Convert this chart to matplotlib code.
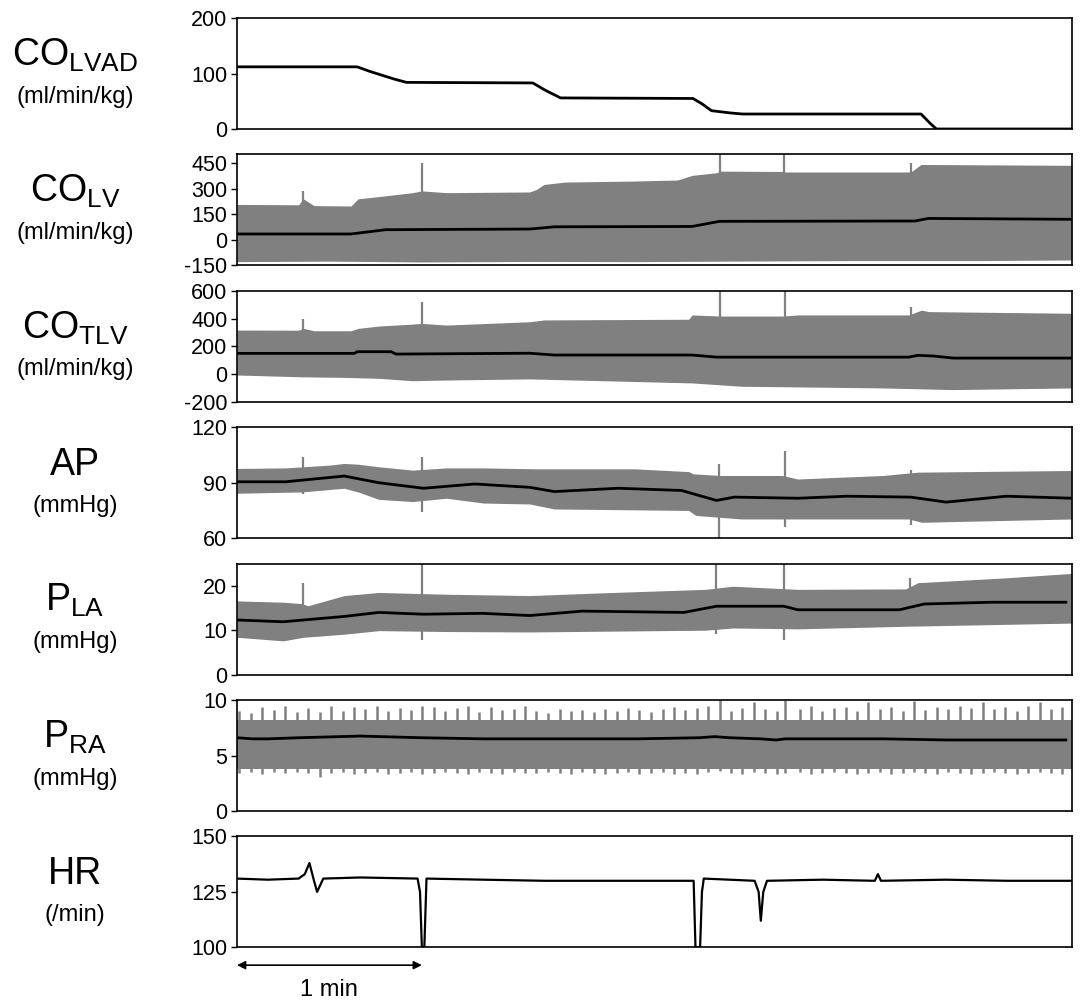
import matplotlib
matplotlib.use("Agg")
import matplotlib.pyplot as plt
import numpy as np

plt.rcParams['font.family'] = ['Liberation Sans', 'DejaVu Sans']
plt.rcParams['mathtext.fontset'] = 'custom'
plt.rcParams['mathtext.rm'] = 'Liberation Sans'
plt.rcParams['axes.unicode_minus'] = False

GREY = "#808080"

# ---- data (time in seconds) ----
lvad_t = [0, 39, 43, 47, 51, 55, 96, 100, 105, 148, 151, 154, 160, 164, 222, 225, 227, 271]
lvad_v = [112, 112, 104, 97, 90, 84, 83, 70, 56, 55, 45, 33, 29, 27, 27, 10, 0, 0]

lv_up_t = [0, 20, 21.5, 25, 37, 39.3, 46, 57, 60, 68, 95, 97.3, 99.6, 106.5, 129, 143, 147.7, 155.7, 157, 177, 178, 218.7, 222, 271]
lv_up_v = [207, 205, 240, 200, 198, 240, 253, 276, 286, 276, 280, 296, 324, 338, 344, 350, 377, 393, 402, 400, 397, 397, 441, 436]
lv_lo_t = [0, 30, 60, 95, 130, 160, 200, 240, 271]
lv_lo_v = [-128, -125, -130, -127, -128, -125, -122, -122, -118]
lv_mean_t = [0, 37, 48.2, 95, 97, 103, 147.7, 156.6, 220, 224.4, 271]
lv_mean_v = [34, 34, 59, 63, 66, 76, 78, 108, 110, 125, 120]
lv_spk_t = [21.4, 59.9, 156.6, 177.4, 218.7]
lv_spk_v = [286, 450, 500, 500, 451]

tlv_up_t = [0, 20, 21.5, 25, 37, 39.3, 46, 57, 60, 68, 95, 99.6, 146.6, 147.7, 157, 177, 182, 218, 222.2, 224.5, 271]
tlv_up_v = [317, 316, 330, 312, 312, 329, 346, 360, 365, 353, 377, 390, 395, 426, 418, 418, 426, 426, 461, 450, 438]
tlv_lo_t = [0, 21, 35, 46, 57, 68, 95, 147.7, 163.7, 209.6, 232.5, 271]
tlv_lo_v = [-7, -20, -24, -31, -48, -43, -35, -64, -88, -100, -112, -100]
tlv_mean_t = [0, 38.1, 39, 50, 51.6, 95, 103, 147.7, 155.6, 218, 221, 226, 232.5, 271]
tlv_mean_v = [149, 149, 161, 161, 144, 150, 137, 137, 122, 122, 135, 130, 115, 115]
tlv_spk_t = [21.4, 59.9, 156.6, 178.0, 218.7]
tlv_spk_v = [400, 521, 600, 600, 481]

ap_up_t = [0, 15.8, 30, 34.8, 39.3, 46, 57, 68, 80, 97, 106, 129, 146.6, 148, 157, 177, 182, 209.6, 221, 271]
ap_up_v = [97.7, 98, 99.5, 100.4, 100, 98.6, 96.8, 98, 98, 97.5, 97.5, 97.5, 96, 94.8, 93.9, 93.9, 92, 93.9, 95.7, 96.6]
ap_lo_t = [0, 21, 34.8, 39.3, 46, 57, 68, 80, 95, 103, 146.6, 148.9, 163.7, 186.7, 218, 222.2, 271]
ap_lo_v = [84.3, 85, 87, 85, 81, 79.8, 81.6, 79, 78.5, 75.8, 75, 72.3, 70.4, 70.4, 70.4, 68.6, 70.4]
ap_mean_t = [0, 15.8, 34.8, 46, 60.5, 77.2, 95, 103, 123.7, 144.3, 155.6, 161.4, 182.1, 198.1, 218.7, 230.2, 249.7, 271]
ap_mean_v = [90.5, 90.5, 93.6, 90, 87, 89.3, 87.5, 85.2, 87, 85.8, 80.4, 82.2, 81.6, 82.7, 82.2, 79.5, 82.7, 81.6]
ap_spk_t = [21.4, 59.9, 156.3, 178.0, 218.7]
ap_spk_hi = [104, 104, 100, 107.4, 97]
ap_spk_lo = [84, 74.4, 60, 66, 67.2]

la_up_t = [0, 15, 21, 23, 34.8, 46, 68, 95, 118, 152, 161, 182, 217, 221, 249.7, 271]
la_up_v = [16.6, 16.3, 16, 15.5, 17.8, 18.5, 18.1, 17.8, 18.4, 19.2, 19.9, 19.2, 19.3, 20.7, 21.8, 22.8]
la_lo_t = [0, 15, 21.4, 34.8, 46, 68, 95, 152, 161, 182, 218, 271]
la_lo_v = [8.4, 7.6, 8.4, 9.1, 9.9, 9.7, 9.6, 10, 10.5, 10.3, 10.9, 11.6]
la_mean_t = [0, 15, 34.8, 46, 60.5, 79.5, 95, 112, 145, 155.6, 177.5, 182, 215, 223, 245, 269]
la_mean_v = [12.3, 11.9, 13.1, 14.0, 13.6, 13.8, 13.3, 14.3, 14.0, 15.4, 15.4, 14.6, 14.6, 15.9, 16.3, 16.3]
la_spk_t = [21.4, 59.9, 155.6, 177.5, 218.5]
la_spk_hi = [20.6, 25, 25, 25, 21.8]
la_spk_lo = [12, 7.9, 9.2, 7.7, 11]

ra_up_t = [0, 271]
ra_up_v = [8.2, 8.2]
ra_lo_t = [0, 271]
ra_lo_v = [3.8, 3.8]
ra_mean_t = [0, 5, 10, 20, 40, 60, 80, 98, 130, 150, 155, 160, 170, 175, 178, 190, 210, 230, 240, 269]
ra_mean_v = [6.6, 6.5, 6.5, 6.6, 6.75, 6.6, 6.5, 6.5, 6.5, 6.6, 6.7, 6.6, 6.5, 6.4, 6.5, 6.5, 6.5, 6.4, 6.4, 6.4]
ra_breath_t = [0.8, 4.5, 8.2, 12.0, 15.6, 19.5, 23.1, 26.8, 30.4, 34.3, 37.9, 41.6, 45.5, 49.0,
               52.8, 56.4, 60.2, 63.9, 67.5, 71.3, 75.0, 78.6, 82.4, 86.1, 89.8, 93.6, 97.2,
               101.0, 104.7, 108.4, 112.1, 115.9, 119.5, 123.3, 127.0, 130.6, 134.4, 138.1,
               141.8, 145.5, 149.2, 152.9, 156.6, 160.4, 164.0, 167.8, 171.5, 175.2, 178.0,
               182.6, 186.3, 190.0, 193.7, 197.5, 201.1, 204.9, 208.6, 212.3, 216.0, 219.7,
               223.4, 227.1, 230.8, 234.6, 238.2, 242.0, 245.7, 249.4, 253.1, 256.8, 260.5,
               264.2, 267.9]
ra_breath_hi = [9.0, 8.8, 9.4, 9.1, 9.5, 8.9, 9.3, 8.9, 9.5, 9.0, 9.4, 9.2, 9.5, 9.0,
                9.3, 9.1, 9.5, 9.4, 9.0, 9.3, 9.5, 8.9, 9.4, 9.1, 9.2, 9.5, 9.0,
                8.8, 9.2, 9.0, 9.1, 8.9, 9.2, 9.0, 9.3, 9.1, 8.9, 9.2,
                9.4, 9.1, 9.3, 9.5, 10.0, 9.0, 9.3, 9.8, 9.2, 9.0, 10.0,
                9.2, 9.5, 9.0, 9.3, 9.4, 9.0, 9.8, 9.2, 9.4, 9.0, 9.9,
                9.1, 9.4, 9.2, 9.5, 9.3, 9.8, 9.2, 9.4, 9.0, 9.5, 9.8,
                9.2, 9.4]
ra_breath_lo = [3.4, 3.5, 3.3, 3.5, 3.4, 3.5, 3.4, 3.1, 3.4, 3.5, 3.3, 3.4, 3.5, 3.3,
                3.4, 3.5, 3.3, 3.4, 3.5, 3.4, 3.3, 3.5, 3.4, 3.3, 3.5, 3.4, 3.4,
                3.5, 3.4, 3.3, 3.5, 3.4, 3.3, 3.4, 3.5, 3.3, 3.4, 3.5,
                3.3, 3.4, 3.3, 3.5, 3.6, 3.4, 3.3, 3.5, 3.4, 3.3, 3.4,
                3.5, 3.3, 3.4, 3.5, 3.4, 3.3, 3.4, 3.5, 3.3, 3.4, 3.5,
                3.4, 3.3, 3.5, 3.4, 3.3, 3.4, 3.5, 3.4, 3.3, 3.4, 3.5,
                3.4, 3.3]

hr_t = [0, 10, 20, 22, 23.5, 25, 26, 28, 40, 58.6, 59.4, 60.0, 60.8, 61.5, 80, 100, 120, 148.2, 148.8, 150.3, 150.9, 151.5, 168, 169.3, 170.0, 170.8, 172, 190, 207, 208, 209, 230, 250, 271]
hr_v = [131, 130.5, 131, 133, 138, 130, 125, 131, 131.5, 131, 125, 100, 100, 131, 130.5, 130, 130, 130, 100, 100, 125, 131, 130, 125, 112, 125, 130, 130.5, 130, 133, 130, 130.5, 130, 130]

labels = [("CO", "LVAD", "(ml/min/kg)"), ("CO", "LV", "(ml/min/kg)"), ("CO", "TLV", "(ml/min/kg)"),
          ("AP", "", "(mmHg)"), ("P", "LA", "(mmHg)"), ("P", "RA", "(mmHg)"), ("HR", "", "(/min)")]
ylims = [(0, 200), (-150, 500), (-200, 600), (60, 120), (0, 25), (0, 10), (100, 150)]
yticks = [[0, 100, 200], [-150, 0, 150, 300, 450], [-200, 0, 200, 400, 600], [60, 90, 120],
          [0, 10, 20], [0, 5, 10], [100, 125, 150]]

W, H = 1084, 1006
fig = plt.figure(figsize=(W / 100, H / 100), dpi=100)
axes = []
for i in range(7):
    top = 18 + i * 136.4
    ax = fig.add_axes([237 / W, 1 - (top + 111) / H, 835 / W, 111 / H])
    ax.set_xlim(0, 271)
    ax.set_ylim(*ylims[i])
    ax.set_yticks(yticks[i])
    ax.set_xticks([])
    ax.tick_params(axis='y', direction='out', length=4, width=1, labelsize=15.5, pad=3)
    for s in ax.spines.values():
        s.set_linewidth(1.2)
    big, sub, unit = labels[i]
    cy = top + 55.5
    txt = big if not sub else r"$\mathrm{%s}_{\mathrm{%s}}$" % (big, sub)
    fig.text(75 / W, 1 - (cy - 8) / H, txt, ha='center', va='baseline', fontsize=27)
    fig.text(75 / W, 1 - (cy + 23) / H, unit, ha='center', va='center', fontsize=17)
    axes.append(ax)


def band(ax, ut, uv, lt, lv, mt, mv):
    grid = np.union1d(ut, lt)
    ax.fill_between(grid, np.interp(grid, lt, lv), np.interp(grid, ut, uv), color=GREY, lw=0)
    ax.plot(mt, mv, color='black', lw=2.0)


ax = axes[0]
ax.plot(lvad_t, lvad_v, color='black', lw=2.0)

ax = axes[1]
ax.vlines(lv_spk_t, 0, lv_spk_v, color=GREY, lw=1.6)
band(ax, lv_up_t, lv_up_v, lv_lo_t, lv_lo_v, lv_mean_t, lv_mean_v)

ax = axes[2]
ax.vlines(tlv_spk_t, 0, tlv_spk_v, color=GREY, lw=1.6)
band(ax, tlv_up_t, tlv_up_v, tlv_lo_t, tlv_lo_v, tlv_mean_t, tlv_mean_v)

ax = axes[3]
ax.vlines(ap_spk_t, ap_spk_lo, ap_spk_hi, color=GREY, lw=1.6)
band(ax, ap_up_t, ap_up_v, ap_lo_t, ap_lo_v, ap_mean_t, ap_mean_v)

ax = axes[4]
ax.vlines(la_spk_t, la_spk_lo, la_spk_hi, color=GREY, lw=1.6)
band(ax, la_up_t, la_up_v, la_lo_t, la_lo_v, la_mean_t, la_mean_v)

ax = axes[5]
ax.vlines(ra_breath_t, ra_breath_lo, ra_breath_hi, color=GREY, lw=1.8)
band(ax, ra_up_t, ra_up_v, ra_lo_t, ra_lo_v, ra_mean_t, ra_mean_v)

ax = axes[6]
ax.plot(hr_t, hr_v, color='black', lw=1.6)

# 1 min scale bar
ax.annotate("", xy=(0, -0.16), xytext=(60, -0.16), xycoords=('data', 'axes fraction'),
            arrowprops=dict(arrowstyle='<|-|>', color='black', lw=1.2, mutation_scale=12,
                            shrinkA=0, shrinkB=0),
            annotation_clip=False)
ax.text(30, -0.38, "1 min", transform=ax.get_xaxis_transform(), ha='center', va='center', fontsize=17)

fig.savefig("out.png", dpi=100)
